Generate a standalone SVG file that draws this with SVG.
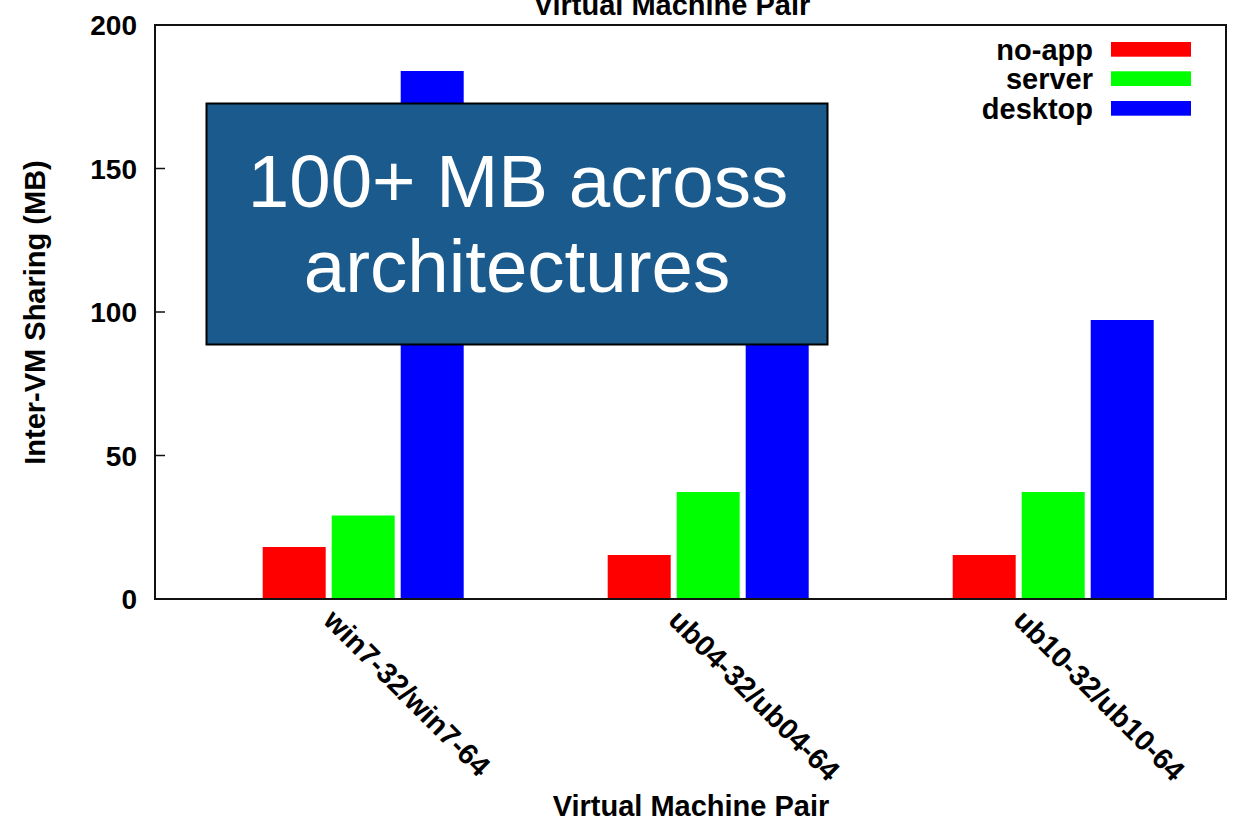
<svg xmlns="http://www.w3.org/2000/svg" width="1242" height="822" viewBox="0 0 1242 822">
  <style>
    .lbl { font-family: "Liberation Sans", Arial, sans-serif; font-weight: bold; font-size: 29px; fill: #000; }
    .tick { font-family: "Liberation Sans", Arial, sans-serif; font-weight: bold; font-size: 28px; fill: #000; text-anchor: end; }
    .frame { fill: none; stroke: #111; stroke-width: 2; }
    .tk { stroke: #111; stroke-width: 1.5; }
    .noapp { fill: #ff0000; }
    .server { fill: #00ff00; }
    .desktop { fill: #0000ff; }
    .callout { fill: #1a5a8c; stroke: #000; stroke-width: 2; }
    .callout-text { font-family: "Liberation Sans", Arial, sans-serif; font-size: 74.5px; fill: #fff; text-anchor: middle; }
  </style>
  <rect width="1242" height="822" fill="#fff"/>

  <!-- plot title, clipped at the top edge -->
  <text class="lbl" x="672" y="15" text-anchor="middle">Virtual Machine Pair</text>

  <!-- y axis: ticks and labels (0..200, 2.87 px per MB) -->
  <g id="y-axis">
    <line class="tk" x1="155" y1="168.5" x2="165" y2="168.5"/>
    <line class="tk" x1="155" y1="312" x2="165" y2="312"/>
    <line class="tk" x1="155" y1="455.5" x2="165" y2="455.5"/>
    <text class="tick" x="137" y="35">200</text>
    <text class="tick" x="137" y="178.5">150</text>
    <text class="tick" x="137" y="322">100</text>
    <text class="tick" x="137" y="465.5">50</text>
    <text class="tick" x="137" y="609">0</text>
    <text class="lbl" transform="translate(45,312.5) rotate(-90)" text-anchor="middle">Inter-VM Sharing (MB)</text>
  </g>

  <!-- bars: no-app / server / desktop per VM pair -->
  <g id="bars-win7">
    <rect class="noapp" x="262.7" y="547" width="63" height="52"/>
    <rect class="server" x="331.7" y="515.5" width="63" height="83.5"/>
    <rect class="desktop" x="400.7" y="71" width="63" height="528"/>
  </g>
  <g id="bars-ub04">
    <rect class="noapp" x="607.7" y="555" width="63" height="44"/>
    <rect class="server" x="676.7" y="492" width="63" height="107"/>
    <rect class="desktop" x="745.7" y="168.5" width="63" height="430.5"/>
  </g>
  <g id="bars-ub10">
    <rect class="noapp" x="952.7" y="555" width="63" height="44"/>
    <rect class="server" x="1021.7" y="492" width="63" height="107"/>
    <rect class="desktop" x="1090.7" y="320" width="63" height="279"/>
  </g>

  <!-- plot border -->
  <rect class="frame" x="155" y="25" width="1071" height="574"/>

  <!-- x axis category labels -->
  <g id="x-axis">
    <text class="lbl" transform="translate(322,622) rotate(45)">win7-32/win7-64</text>
    <text class="lbl" transform="translate(667,622) rotate(45)">ub04-32/ub04-64</text>
    <text class="lbl" transform="translate(1012,622) rotate(45)">ub10-32/ub10-64</text>
    <text class="lbl" x="691" y="816" text-anchor="middle">Virtual Machine Pair</text>
  </g>

  <!-- legend -->
  <g id="legend">
    <text class="lbl" x="1093" y="59.5" text-anchor="end">no-app</text>
    <rect class="noapp" x="1111" y="42" width="80" height="14.7"/>
    <text class="lbl" x="1093" y="89" text-anchor="end">server</text>
    <rect class="server" x="1111" y="71.3" width="80" height="14.7"/>
    <text class="lbl" x="1093" y="118.5" text-anchor="end">desktop</text>
    <rect class="desktop" x="1111" y="101" width="80" height="14.7"/>
  </g>

  <!-- callout box -->
  <g id="callout">
    <rect class="callout" x="206.5" y="103.5" width="621" height="241"/>
    <text class="callout-text" x="518" y="207">100+ MB across</text>
    <text class="callout-text" x="517" y="292">architectures</text>
  </g>
</svg>
